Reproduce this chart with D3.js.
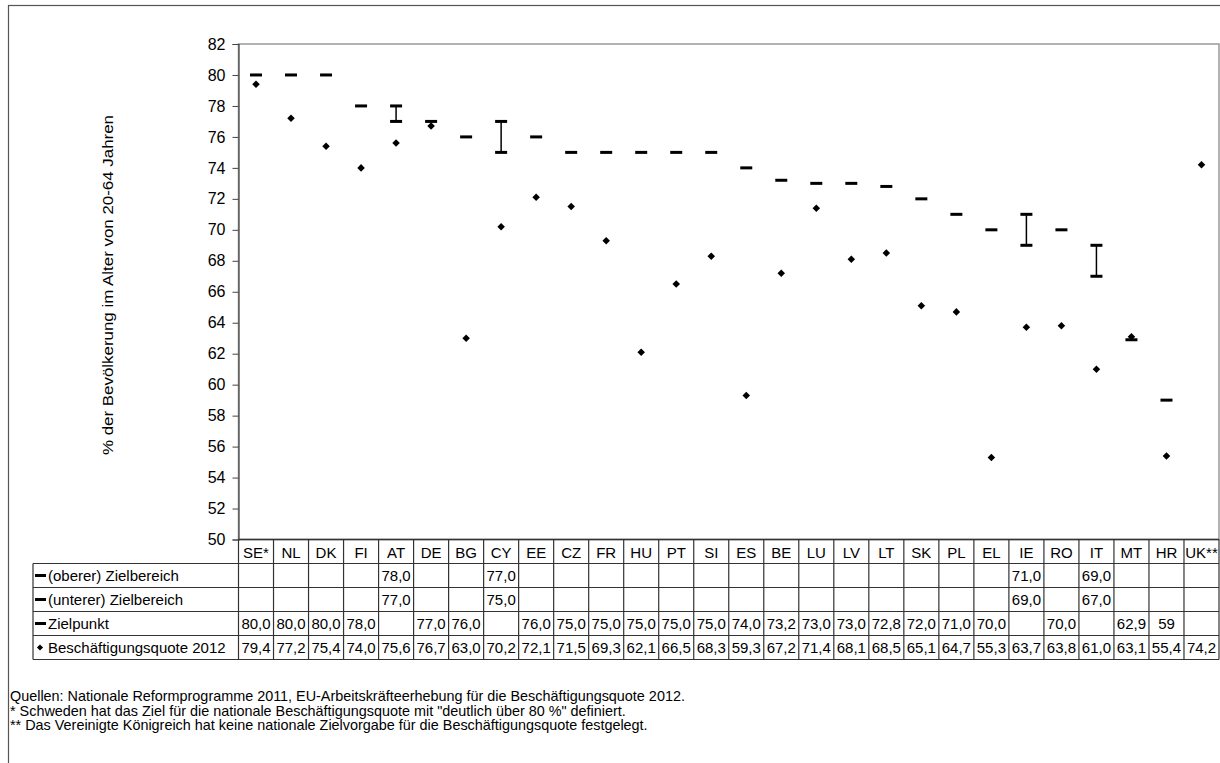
<!DOCTYPE html>
<html>
<head>
<meta charset="utf-8">
<title>Beschäftigungsquote</title>
<script src="https://cdn.jsdelivr.net/npm/d3@7"></script>
<style>
  body { margin: 0; background: #fff; }
  svg { font-family: "Liberation Sans", Arial, sans-serif; }
</style>
</head>
<body>
<svg id="svg"></svg>
<script>
var countries = ["SE*","NL","DK","FI","AT","DE","BG","CY","EE","CZ","FR","HU","PT","SI","ES","BE","LU","LV","LT","SK","PL","EL","IE","RO","IT","MT","HR","UK**"];
var upper  = [null,null,null,null,78,null,null,77,null,null,null,null,null,null,null,null,null,null,null,null,null,null,71,null,69,null,null,null];
var lower  = [null,null,null,null,77,null,null,75,null,null,null,null,null,null,null,null,null,null,null,null,null,null,69,null,67,null,null,null];
var target = [80,80,80,78,null,77,76,null,76,75,75,75,75,75,74,73.2,73,73,72.8,72,71,70,null,70,null,62.9,59,null];
var targetText = ["80,0","80,0","80,0","78,0","","77,0","76,0","","76,0","75,0","75,0","75,0","75,0","75,0","74,0","73,2","73,0","73,0","72,8","72,0","71,0","70,0","","70,0","","62,9","59",""];
var rate   = [79.4,77.2,75.4,74.0,75.6,76.7,63.0,70.2,72.1,71.5,69.3,62.1,66.5,68.3,59.3,67.2,71.4,68.1,68.5,65.1,64.7,55.3,63.7,63.8,61.0,63.1,55.4,74.2];
var yTicks = d3.range(50, 83, 2);
var rowLabels = ["(oberer) Zielbereich","(unterer) Zielbereich","Zielpunkt","Beschäftigungsquote 2012"];
var notes = [
  "Quellen: Nationale Reformprogramme 2011, EU-Arbeitskräfteerhebung für die Beschäftigungsquote 2012.",
  "* Schweden hat das Ziel für die nationale Beschäftigungsquote mit \"deutlich über 80 %\" definiert.",
  "** Das Vereinigte Königreich hat keine nationale Zielvorgabe für die Beschäftigungsquote festgelegt."
];

var width = 1220, height = 763;
var pLeft = 238.5, pRight = 1219, pTop = 44, pBottom = 539.5;
var rowH = 24, tableLeft = 33;

var svg = d3.select('#svg').attr('width', width).attr('height', height);

var fmt = function (v) { return v == null ? "" : d3.format(".1f")(v).replace(".", ","); };

var x = d3.scaleBand().domain(countries).range([pLeft, pRight]);
var y = d3.scaleLinear().domain([50, 82]).range([pBottom, pTop]);

// outer frame
svg.append('rect').attr('x', 8.5).attr('y', 5.5).attr('width', 1230).attr('height', 780)
  .attr('fill', 'none').attr('stroke', '#555').attr('stroke-width', 1.2);

// plot area border
svg.append('rect').attr('x', pLeft).attr('y', pTop).attr('width', pRight - pLeft).attr('height', pBottom - pTop)
  .attr('fill', 'none').attr('stroke', '#999').attr('stroke-width', 1.5);

// y axis
var yAxis = svg.append('g').attr('transform', 'translate(' + pLeft + ',0)')
  .call(d3.axisLeft(y).tickValues(yTicks).tickSize(6).tickPadding(7));
yAxis.select('.domain').attr('stroke', '#444').attr('stroke-width', 1.2);
yAxis.selectAll('.tick line').attr('stroke', '#444');
yAxis.selectAll('text').attr('font-size', 16).attr('fill', '#000')
  .attr('font-family', '"Liberation Sans", Arial, sans-serif');

svg.append('text')
  .attr('transform', 'translate(113,285) rotate(-90)')
  .attr('text-anchor', 'middle').attr('font-size', 14)
  .attr('textLength', 340).attr('lengthAdjust', 'spacingAndGlyphs')
  .text('% der Bevölkerung im Alter von 20-64 Jahren');

var cx = function (i) { return x(countries[i]) + x.bandwidth() / 2; };
var dashW = 12;

// range marks (I-beam)
var idx = d3.range(countries.length);
var ranged = idx.filter(function (i) { return upper[i] != null; });
svg.append('g').selectAll('line').data(ranged).join('line')
  .attr('x1', cx).attr('x2', cx)
  .attr('y1', function (i) { return y(upper[i]); })
  .attr('y2', function (i) { return y(lower[i]); })
  .attr('stroke', '#000').attr('stroke-width', 1.5);
[upper, lower].forEach(function (arr) {
  svg.append('g').selectAll('line').data(ranged).join('line')
    .attr('x1', function (i) { return cx(i) - dashW / 2; })
    .attr('x2', function (i) { return cx(i) + dashW / 2; })
    .attr('y1', function (i) { return y(arr[i]); })
    .attr('y2', function (i) { return y(arr[i]); })
    .attr('stroke', '#000').attr('stroke-width', 3);
});

// target points
svg.append('g').selectAll('line').data(idx.filter(function (i) { return target[i] != null; })).join('line')
  .attr('x1', function (i) { return cx(i) - dashW / 2; })
  .attr('x2', function (i) { return cx(i) + dashW / 2; })
  .attr('y1', function (i) { return y(target[i]); })
  .attr('y2', function (i) { return y(target[i]); })
  .attr('stroke', '#000').attr('stroke-width', 3);

// employment rate diamonds
var diamond = d3.symbol().type(d3.symbolDiamond2).size(36);
svg.append('g').selectAll('path').data(idx).join('path')
  .attr('transform', function (i) { return 'translate(' + cx(i) + ',' + y(rate[i]) + ')'; })
  .attr('d', diamond).attr('fill', '#000');

// data table
var rows = [upper.map(fmt), lower.map(fmt), targetText, rate.map(fmt)];
var tbl = svg.append('g').attr('font-size', 15);
var gridC = '#333';

// header row
tbl.selectAll('text.hdr').data(countries).join('text')
  .attr('x', function (d) { return x(d) + x.bandwidth() / 2; })
  .attr('y', pBottom + 18)
  .attr('text-anchor', 'middle').text(function (d) { return d; });

// horizontal lines
tbl.selectAll('line.h').data(d3.range(1, 6)).join('line')
  .attr('x1', tableLeft).attr('x2', pRight)
  .attr('y1', function (k) { return pBottom + k * rowH; })
  .attr('y2', function (k) { return pBottom + k * rowH; })
  .attr('stroke', gridC).attr('stroke-width', 1.2);
tbl.append('line').attr('x1', pLeft).attr('x2', pRight).attr('y1', pBottom).attr('y2', pBottom)
  .attr('stroke', gridC).attr('stroke-width', 1.5);

// vertical lines
var vx = countries.map(function (d) { return x(d); }).concat([pRight]);
tbl.selectAll('line.v').data(vx).join('line')
  .attr('x1', function (d) { return d; }).attr('x2', function (d) { return d; })
  .attr('y1', pBottom).attr('y2', pBottom + 5 * rowH)
  .attr('stroke', gridC).attr('stroke-width', 1.2);
tbl.append('line').attr('x1', tableLeft).attr('x2', tableLeft)
  .attr('y1', pBottom + rowH).attr('y2', pBottom + 5 * rowH)
  .attr('stroke', gridC).attr('stroke-width', 1.2);

// row labels with symbols
rowLabels.forEach(function (lab, r) {
  var yc = pBottom + (r + 1) * rowH + rowH / 2;
  if (r < 3) {
    tbl.append('line').attr('x1', 35).attr('x2', 46).attr('y1', yc).attr('y2', yc)
      .attr('stroke', '#000').attr('stroke-width', 3);
  } else {
    tbl.append('path').attr('transform', 'translate(40,' + yc + ')')
      .attr('d', d3.symbol().type(d3.symbolDiamond2).size(24)).attr('fill', '#000');
  }
  tbl.append('text').attr('x', 48).attr('y', yc + 5.5).text(lab);
  tbl.append('g').selectAll('text').data(rows[r]).join('text')
    .attr('x', function (d, i) { return cx(i); })
    .attr('y', yc + 5.5)
    .attr('text-anchor', 'middle')
    .text(function (d) { return d; });
});

// footnotes
svg.append('g').attr('font-size', 14.4).selectAll('text').data(notes).join('text')
  .attr('x', 10).attr('y', function (d, i) { return 701 + i * 14.5; })
  .text(function (d) { return d; });
</script>
</body>
</html>
